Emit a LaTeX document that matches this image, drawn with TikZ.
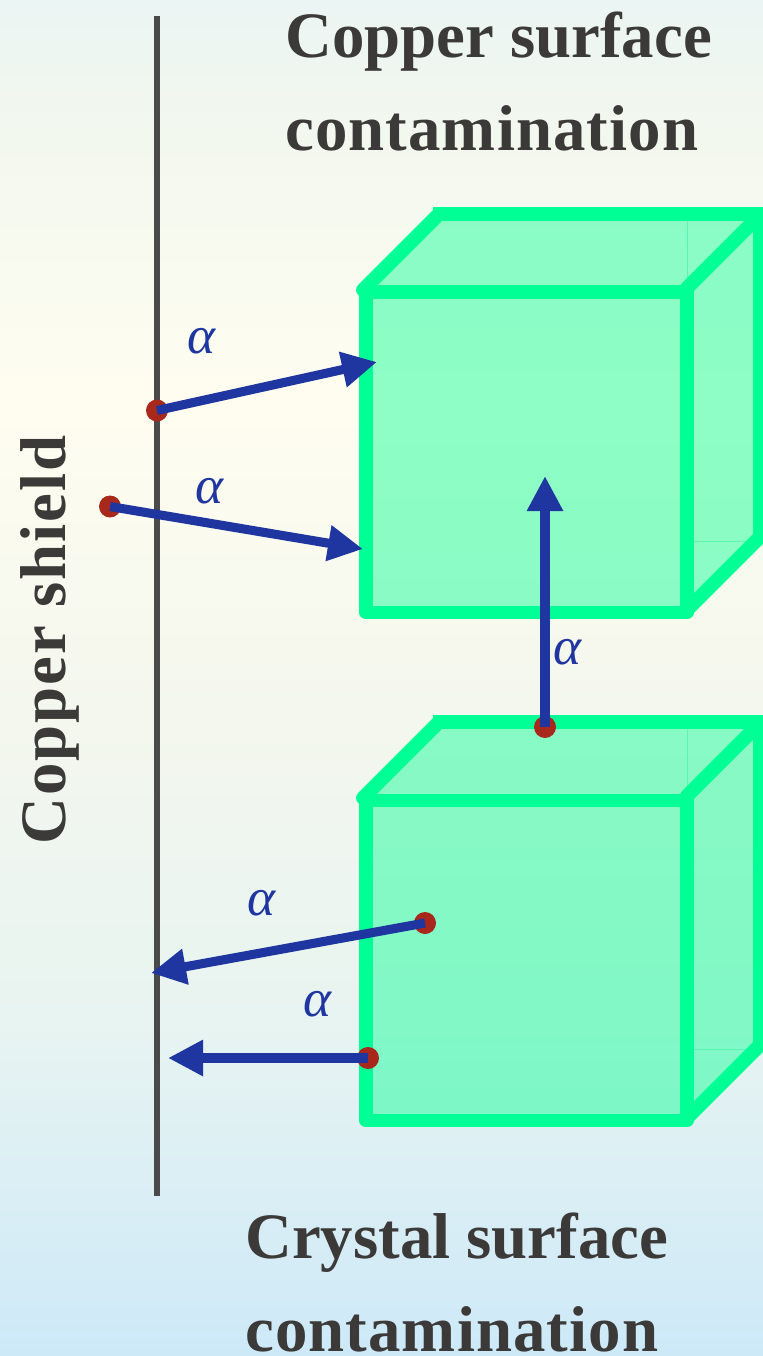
\documentclass[tikz,border=0pt]{standalone}
\usepackage{fontspec}
\setmainfont{Liberation Serif}
\usetikzlibrary{arrows.meta}
\definecolor{bgT}{HTML}{EBF5F3}
\definecolor{bgA}{HTML}{F1F7EF}
\definecolor{bgB}{HTML}{FFFDF0}
\definecolor{bgC}{HTML}{F4F7EE}
\definecolor{bgD}{HTML}{E8F4F1}
\definecolor{bgE}{HTML}{CDE9F8}
\definecolor{cubeline}{HTML}{00FF94}
\definecolor{cubefill}{HTML}{00FF91}
\definecolor{thinedge}{HTML}{5CF5B4}
\definecolor{arrowblue}{HTML}{1F35A0}
\definecolor{dotred}{HTML}{A8291C}
\definecolor{inkgrey}{HTML}{3C3A38}
\definecolor{shieldgrey}{HTML}{4A4A4A}
\pgfdeclareverticalshading{pagebg}{100bp}{
  color(0bp)=(bgE);
  color(25bp)=(bgE);
  color(37.5bp)=(bgD);
  color(49bp)=(bgC);
  color(60.2bp)=(bgB);
  color(71.3bp)=(bgA);
  color(75bp)=(bgT);
  color(100bp)=(bgT)}
\tikzset{
  x=0.75pt,y=-0.75pt,
  cubeface/.style={fill=cubefill,fill opacity=.44,draw=none},
  cubeedge/.style={draw=cubeline,line width=10.4pt,line join=round,line cap=round},
  cubeback/.style={draw=cubeline,line width=10.4pt},
  thinback/.style={draw=thinedge,line width=0.8pt},
  shieldline/.style={draw=shieldgrey,line width=4.5pt},
  source/.style={circle,fill=dotred,draw=none,minimum size=16.5pt,inner sep=0pt},
  ray/.style={draw=arrowblue,line width=6.8pt,-{Triangle[length=26.25pt,width=25.5pt]}},
  alphalabel/.style={text=arrowblue,font=\fontsize{40pt}{40pt}\selectfont\itshape,inner sep=0pt},
  heading/.style={text=inkgrey,font=\fontsize{48.6pt}{69pt}\selectfont\bfseries,inner sep=0pt,anchor=base west},
}
\begin{document}
\begin{tikzpicture}
\useasboundingbox (0,0) rectangle (763,1356);
\clip (0,0) rectangle (763,1356);
\shade[shading=pagebg] (0,0) rectangle (763,1356);

% copper shield
\draw[shieldline] (157,16) -- (157,1196);

% upper crystal
\path[cubeface] (362,292) -- (440,214) -- (760,214) -- (760,537) -- (687,612) -- (366,612) -- cycle;
\draw[thinback] (687.7,214) -- (687.7,292);
\draw[thinback] (687,541.7) -- (755,541.7);
\draw[cubeback] (433,214) -- (770,214);
\draw[cubeedge] (366,292) rectangle (687,612.5);
\draw[cubeedge] (363,290) -- (439,214);
\draw[cubeedge] (687,288) -- (761,214);
\draw[cubeedge] (687,610) -- (760,537) -- (760,214);

% lower crystal
\path[cubeface] (362,800) -- (440,722) -- (760,722) -- (760,1045) -- (687,1120) -- (366,1120) -- cycle;
\draw[thinback] (687.7,722) -- (687.7,800);
\draw[thinback] (687,1049.7) -- (755,1049.7);
\draw[cubeback] (433,722) -- (770,722);
\draw[cubeedge] (366,800.5) rectangle (687,1120.5);
\draw[cubeedge] (363,798) -- (439,722);
\draw[cubeedge] (687,796) -- (761,722);
\draw[cubeedge] (687,1118) -- (760,1045) -- (760,722);

% sources and targets
\node[source] (s1) at (157,410.5) {};
\node[source] (s2) at (110,506.5) {};
\node[source] (s3) at (425,923) {};
\node[source] (s4) at (368,1058) {};
\node[source] (s5) at (545,727) {};
\coordinate (t1) at (377,362);
\coordinate (t2) at (363,549);
\coordinate (t3) at (151,973);
\coordinate (t4) at (168,1058);
\coordinate (t5) at (545,476);

\draw[ray] (s1.center) -- (t1);
\draw[ray] (s2.center) -- (t2);
\draw[ray] (s3.center) -- (t3);
\draw[ray] (s4.center) -- (t4);
\draw[ray] (s5.center) -- (t5);

% labels
\node[alphalabel] (a1) at (201,341) {α};
\node[alphalabel] (a2) at (209,491) {α};
\node[alphalabel] (a3) at (567,652) {α};
\node[alphalabel] (a4) at (261,903) {α};
\node[alphalabel] (a5) at (317,1004) {α};

\node[heading] (h1a) at (285,57) {Copper surface};
\node[heading] (h1b) at (285,150) {\addfontfeature{LetterSpace=1.7}contamination};
\node[heading] (h2a) at (245,1258) {Crystal surface};
\node[heading] (h2b) at (245,1351) {\addfontfeature{LetterSpace=1.7}contamination};
\node[heading,rotate=90,anchor=base] (h3) at (65,640) {\addfontfeature{LetterSpace=3}Copper shield};
\end{tikzpicture}
\end{document}
